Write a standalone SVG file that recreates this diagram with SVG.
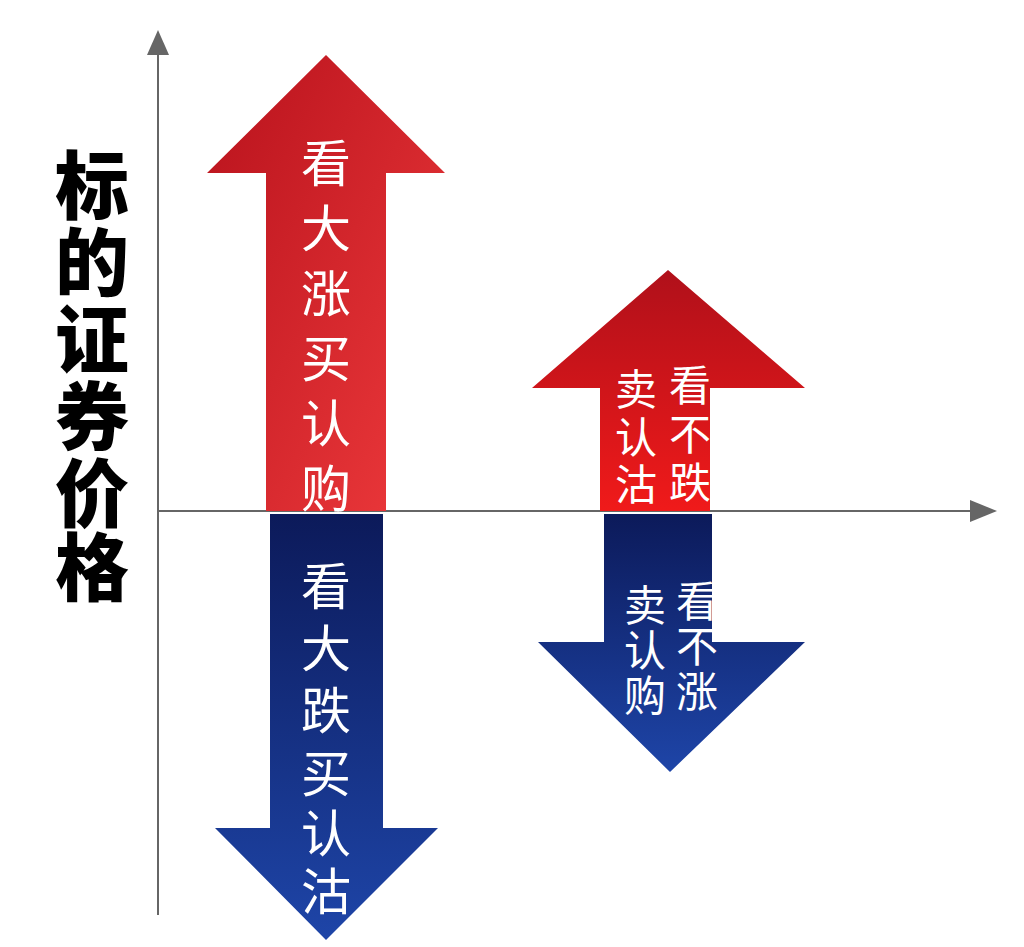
<svg xmlns="http://www.w3.org/2000/svg" width="1024" height="947" viewBox="0 0 1024 947">
<defs>
<linearGradient id="red" x1="0" y1="0" x2="1" y2="1"><stop offset="0" stop-color="#b8121c"/><stop offset="1" stop-color="#ee3a3c"/></linearGradient>
<linearGradient id="red2" x1="0" y1="0" x2="0" y2="1"><stop offset="0" stop-color="#b0101a"/><stop offset="1" stop-color="#f01a1a"/></linearGradient>
<linearGradient id="blue" x1="0" y1="0" x2="0" y2="1"><stop offset="0" stop-color="#0c1a5a"/><stop offset="1" stop-color="#1e45a8"/></linearGradient>
<style>
.w{font-family:"Noto Sans CJK SC",sans-serif;fill:#fff;text-anchor:middle;dominant-baseline:central}
.axis{stroke:#666;stroke-width:2;fill:none}
</style>
</defs>
<rect width="1024" height="947" fill="#fff"/>
<g id="connectors">
<line class="axis" x1="158" y1="50" x2="158" y2="915"/>
<polygon points="158,30 147,55 169,55" fill="#666"/>
<line class="axis" x1="158" y1="511" x2="975" y2="511"/>
<polygon points="997,511 970,500 970,522" fill="#666"/>
</g>
<g id="ylabel"><text font-family="'Noto Sans CJK SC',sans-serif" font-weight="900" font-size="74" fill="#000" text-anchor="middle" dominant-baseline="central">
<tspan x="92" y="180">标</tspan><tspan x="92" y="257">的</tspan><tspan x="92" y="334">证</tspan><tspan x="92" y="411">券</tspan><tspan x="92" y="488">价</tspan><tspan x="92" y="562">格</tspan></text></g>
<g id="bigUp">
<polygon points="326,55 445,173 386,173 386,511 266,511 266,173 207,173" fill="url(#red)"/>
<text class="w" font-size="50"><tspan x="326" y="160">看</tspan><tspan x="326" y="225">大</tspan><tspan x="326" y="290">涨</tspan><tspan x="326" y="355">买</tspan><tspan x="326" y="420">认</tspan><tspan x="326" y="485">购</tspan></text>
</g>
<g id="bigDown">
<polygon points="270,514 383,514 383,828 438,828 326,940 215,828 270,828" fill="url(#blue)"/>
<text class="w" font-size="50"><tspan x="326" y="583">看</tspan><tspan x="326" y="645">大</tspan><tspan x="326" y="707">跌</tspan><tspan x="326" y="770">买</tspan><tspan x="326" y="830">认</tspan><tspan x="326" y="888">沽</tspan></text>
</g>
<g id="smallUp">
<polygon points="668,270 805,388 710,388 710,511 600,511 600,388 532,388" fill="url(#red2)"/>
<text class="w" font-size="42"><tspan x="636" y="386">卖</tspan><tspan x="636" y="434">认</tspan><tspan x="636" y="481">沽</tspan><tspan x="690" y="382">看</tspan><tspan x="690" y="431">不</tspan><tspan x="690" y="479">跌</tspan></text>
</g>
<g id="smallDown">
<polygon points="604,514 712,514 712,642 805,642 670,772 538,642 604,642" fill="url(#blue)"/>
<text class="w" font-size="42"><tspan x="645" y="602">卖</tspan><tspan x="645" y="647">认</tspan><tspan x="645" y="692">购</tspan><tspan x="697" y="598">看</tspan><tspan x="697" y="643">不</tspan><tspan x="697" y="688">涨</tspan></text>
</g>
</svg>
